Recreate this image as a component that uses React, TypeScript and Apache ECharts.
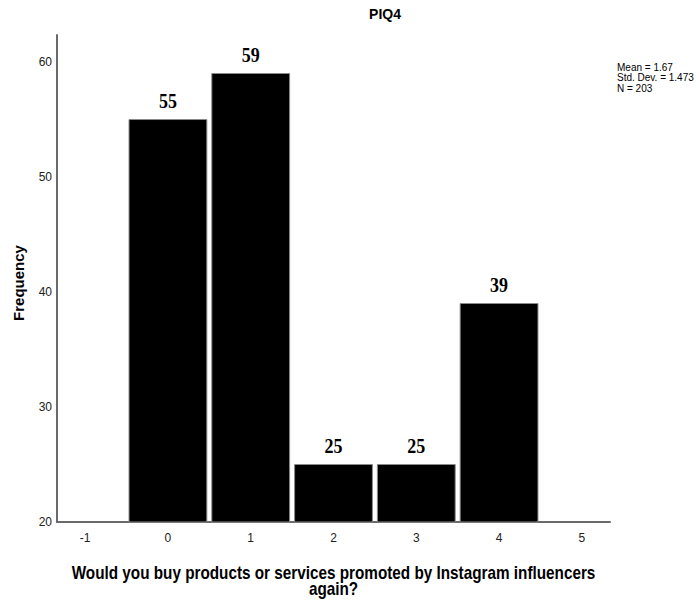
import React, { useEffect, useRef } from "react";
import * as echarts from "echarts";

const categories = [0, 1, 2, 3, 4];
const frequencies = [55, 59, 25, 25, 39];
const yTicks = [20, 30, 40, 50, 60];
const xTickLabels = ["-1", "0", "1", "2", "3", "4", "5"];
const titleText = "PIQ4";
const statsLines = ["Mean = 1.67", "Std. Dev. = 1.473", "N = 203"];
const xAxisTitle = ["Would you buy products or services promoted by Instagram influencers", "again?"];
const yAxisTitle = "Frequency";

const SANS = "'Liberation Sans', Arial, sans-serif";
const NARROW = "'Liberation Sans Narrow', 'Liberation Sans', Arial, sans-serif";
const SERIF = "'Liberation Serif', 'Times New Roman', serif";

export default function App() {
  const ref = useRef<HTMLDivElement>(null);
  useEffect(() => {
    if (!ref.current) return;
    const chart = echarts.init(ref.current, undefined, { renderer: "svg" });
    const data = categories.map((c, i) => [c, frequencies[i]]);
    const option: any = {
      animation: false,
      backgroundColor: "#ffffff",
      grid: { left: 57, right: 89, top: 35, bottom: 81, containLabel: false },
      xAxis: {
        type: "value",
        min: -1.34,
        max: 5.34,
        splitNumber: 6,
        axisLine: { show: true, onZero: false, lineStyle: { color: "#6a6a6a", width: 2 } },
        axisTick: { show: false },
        splitLine: { show: false },
        axisLabel: {
          show: true,
          showMinLabel: false,
          showMaxLabel: false,
          margin: 10,
          color: "#222",
          fontFamily: NARROW,
          fontSize: 12,
          formatter: (v: number) => {
            const s = String(Math.round(v));
            return Math.abs(v - Math.round(v)) < 1e-6 && xTickLabels.includes(s) ? s : "";
          },
        },
      },
      yAxis: {
        type: "value",
        min: yTicks[0],
        max: 62.35,
        interval: 10,
        axisLine: { show: true, onZero: false, lineStyle: { color: "#6a6a6a", width: 2 } },
        axisTick: { show: false },
        splitLine: { show: false },
        axisLabel: {
          show: true,
          showMaxLabel: false,
          margin: 5,
          color: "#222",
          fontFamily: NARROW,
          fontSize: 12,
          formatter: (v: number) => (yTicks.includes(v) ? String(v) : ""),
        },
      },
      series: [
        {
          type: "custom",
          data,
          clip: false,
          renderItem: (params: any, api: any) => {
            const x = api.value(0);
            const y = api.value(1);
            const tl = api.coord([x - 0.47, y]);
            const br = api.coord([x + 0.47, yTicks[0]]);
            const cx = (tl[0] + br[0]) / 2;
            return {
              type: "group",
              children: [
                {
                  type: "rect",
                  shape: { x: tl[0], y: tl[1], width: br[0] - tl[0], height: br[1] - tl[1] },
                  style: { fill: "#000000", stroke: "#8a8a8a", lineWidth: 1 },
                },
                {
                  type: "text",
                  x: cx,
                  y: tl[1] - 8,
                  scaleY: 1.2,
                  style: {
                    text: String(y),
                    x: 0,
                    y: 0,
                    align: "center",
                    verticalAlign: "bottom",
                    fill: "#000",
                    font: `bold 18px ${SERIF}`,
                  },
                },
              ],
            };
          },
        },
      ],
      graphic: [
        {
          type: "text",
          x: 385,
          y: 14,
          style: { text: titleText, align: "center", verticalAlign: "middle", fill: "#000", font: `bold 14px ${SANS}` },
        },
        {
          type: "text",
          x: 617,
          y: 62,
          style: {
            text: statsLines.join("\n"),
            align: "left",
            verticalAlign: "top",
            fill: "#000",
            font: `10px ${NARROW}`,
            lineHeight: 10.5,
          },
        },
        {
          type: "text",
          x: 18,
          y: 283,
          rotation: Math.PI / 2,
          style: { text: yAxisTitle, align: "center", verticalAlign: "middle", fill: "#000", font: `bold 15px ${SANS}` },
        },
        {
          type: "text",
          x: 333.5,
          y: 573,
          scaleY: 1.15,
          style: { text: xAxisTitle[0], align: "center", verticalAlign: "middle", fill: "#000", font: `bold 15.3px ${SANS}` },
        },
        {
          type: "text",
          x: 333.5,
          y: 589,
          scaleY: 1.15,
          style: { text: xAxisTitle[1], align: "center", verticalAlign: "middle", fill: "#000", font: `bold 15.3px ${SANS}` },
        },
      ],
    };
    chart.setOption(option);
    return () => chart.dispose();
  }, []);
  return <div ref={ref} style={{ width: 699, height: 603, position: "absolute", left: 0, top: 0 }} />;
}
